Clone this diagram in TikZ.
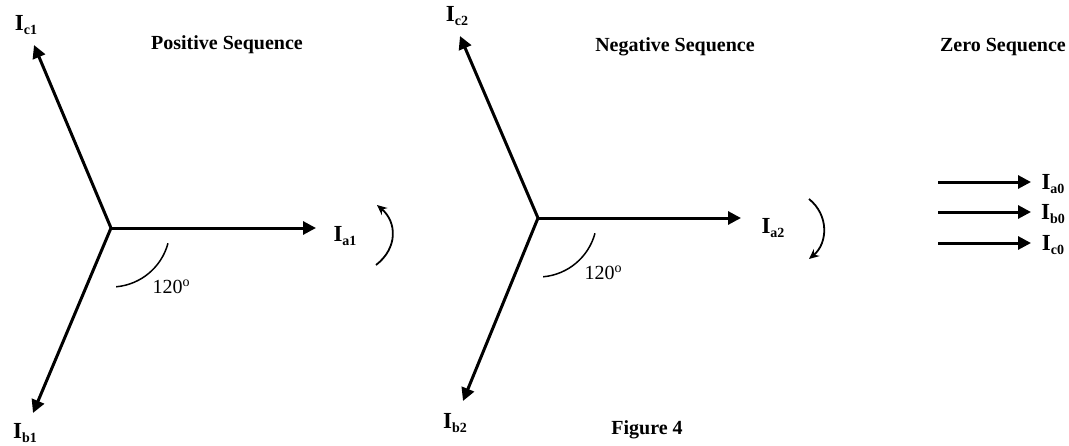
\documentclass[tikz,border=0pt]{standalone}
\usepackage{fontspec}
\setmainfont{Liberation Serif}
\usetikzlibrary{arrows.meta}
\newcommand\curr[2]{{\fontsize{23}{23}\selectfont\bfseries I}{\fontsize{14}{14}\selectfont\bfseries\raisebox{-3.5pt}{#2}}}
\newcommand\degl{{\fontsize{20}{20}\selectfont 120\raisebox{7pt}{\fontsize{14}{14}\selectfont o}}}
\begin{document}
\begin{tikzpicture}[x=1pt,y=-1pt,
  phasor/.style={line width=3pt,-{Triangle[length=13pt,width=13pt]}},
  rot/.style={line width=1.8pt,-{Stealth[length=10pt,width=9pt]}},
  ang/.style={line width=1.5pt},
  lbl/.style={inner sep=0pt,anchor=center},
  ttl/.style={inner sep=0pt,anchor=center,font=\fontsize{20}{20}\selectfont\bfseries}]
\useasboundingbox (0,0) rectangle (1069,445);
% positive sequence
\coordinate (o1) at (111,228);
\coordinate (a1) at (316,228);
\coordinate (c1) at (34,45);
\coordinate (b1) at (33,413);
\draw[phasor] (o1) -- (a1);
\draw[phasor] (o1) -- (c1);
\draw[phasor] (o1) -- (b1);
\node[lbl] (la1) at (345,236) {\curr{I}{a1}};
\node[lbl] (lc1) at (26,25) {\curr{I}{c1}};
\node[lbl] (lb1) at (25,433) {\curr{I}{b1}};
\node[ttl] (t1) at (227,45) {Positive Sequence};
\draw[ang] (o1) ++(15:59) arc[start angle=15,end angle=85,radius=59];
\node[lbl] (d1) at (171,287) {\degl};
\coordinate (r1s) at (376,265);
\coordinate (r1e) at (377,205);
\draw[rot] (r1s) .. controls (398,248) and (397,222) .. (r1e);
% negative sequence
\coordinate (o2) at (538,218);
\coordinate (a2) at (741,218);
\coordinate (c2) at (460,36);
\coordinate (b2) at (463,401);
\draw[phasor] (o2) -- (a2);
\draw[phasor] (o2) -- (c2);
\draw[phasor] (o2) -- (b2);
\node[lbl] (la2) at (773,228) {\curr{I}{a2}};
\node[lbl] (lc2) at (457,16) {\curr{I}{c2}};
\node[lbl] (lb2) at (455,423) {\curr{I}{b2}};
\node[ttl] (t2) at (675,47) {Negative Sequence};
\draw[ang] (o2) ++(15:59) arc[start angle=15,end angle=85,radius=59];
\node[lbl] (d2) at (603,273) {\degl};
\coordinate (r2s) at (809,199);
\coordinate (r2e) at (809,259);
\draw[rot] (r2s) .. controls (829,215) and (828,243) .. (r2e);
% zero sequence
\coordinate (z1s) at (938,182); \coordinate (z1e) at (1031,182);
\coordinate (z2s) at (938,212); \coordinate (z2e) at (1031,212);
\coordinate (z3s) at (938,243); \coordinate (z3e) at (1031,243);
\draw[phasor] (z1s) -- (z1e);
\draw[phasor] (z2s) -- (z2e);
\draw[phasor] (z3s) -- (z3e);
\node[lbl] (la0) at (1053,184) {\curr{I}{a0}};
\node[lbl] (lb0) at (1053,214) {\curr{I}{b0}};
\node[lbl] (lc0) at (1053,245) {\curr{I}{c0}};
\node[ttl] (t3) at (1003,47) {Zero Sequence};
\node[ttl] (fig) at (647,430) {Figure 4};
\end{tikzpicture}
\end{document}
